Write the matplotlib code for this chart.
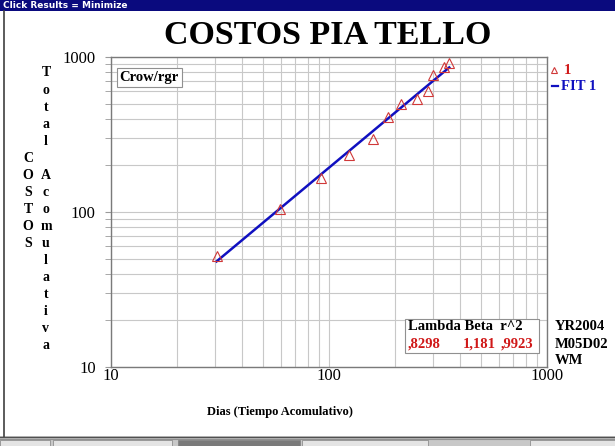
import numpy as np
import matplotlib
matplotlib.use("Agg")
import matplotlib.pyplot as plt
from matplotlib.patches import Rectangle
from matplotlib.lines import Line2D

# Data (days, cumulative cost)
dias = [30.5, 59.6, 91.8, 124, 158.5, 187, 214, 254, 286, 299, 338, 356]
costos = [52, 104, 166, 232, 294, 412, 495, 533, 603, 769, 866, 910]

# Fit line (Crow-AMSAA) end points
fit_dias = [30.5, 356]
fit_costos = [48, 856]

lam_txt = ",8298"
beta_txt = "1,181"
r2_txt = ",9923"

W, H = 615, 446
serif = "Liberation Serif"

fig = plt.figure(figsize=(W / 100, H / 100), dpi=100)
fig.patch.set_facecolor("white")


def px(x, y):
    return x / W, 1 - y / H


# window chrome
fig.add_artist(Rectangle(px(0, 10.5), 1, 10.5 / H, transform=fig.transFigure,
                         facecolor="#0a0a7e", edgecolor="none", zorder=0))
fig.text(*px(3, 5), "Click Results = Minimize", color="white", fontsize=6.5,
         fontweight="bold", family="DejaVu Sans", va="center", ha="left")
fig.add_artist(Line2D([3.5 / W, 3.5 / W], [1 - 437 / H, 1 - 11 / H],
                      transform=fig.transFigure, color="#404040", lw=1.2))
fig.add_artist(Rectangle(px(0, 446), 1, 10 / H, transform=fig.transFigure,
                         facecolor="#c8c8c8", edgecolor="none", zorder=0))
fig.add_artist(Line2D([0, 1], [1 - 436.5 / H] * 2, transform=fig.transFigure,
                      color="#505050", lw=1.0))
fig.add_artist(Line2D([0, 1], [1 - 438.5 / H] * 2, transform=fig.transFigure,
                      color="#909090", lw=0.8))
for x0, x1, fc in [(0, 50, "#e4e4e4"), (53, 172, "#e4e4e4"),
                   (178, 300, "#7a7a7a"), (302, 428, "#e4e4e4"), (530, 615, "#e4e4e4")]:
    fig.add_artist(Rectangle(px(x0, 446), (x1 - x0) / W, 6 / H, transform=fig.transFigure,
                             facecolor=fc, edgecolor="#808080", lw=0.5))

# plot area
ax = fig.add_axes([111 / W, 1 - 367 / H, (547 - 111) / W, (367 - 57) / H])
ax.set_xscale("log")
ax.set_yscale("log")
ax.set_xlim(10, 1000)
ax.set_ylim(10, 1000)

ax.grid(True, which="both", color="#c8c8c8", lw=0.8)
ax.set_axisbelow(True)
for s in ax.spines.values():
    s.set_color("#7a7a7a")
    s.set_linewidth(1.0)

ax.plot(fit_dias, fit_costos, color="#1010c0", lw=1.8, zorder=3)
ax.plot(dias, costos, linestyle="none", marker="^", markersize=7,
        markerfacecolor="none", markeredgecolor="#d03838", markeredgewidth=0.8, zorder=4)

ax.set_xticks([10, 100, 1000])
ax.set_xticklabels(["10", "100", "1000"])
ax.set_yticks([10, 100, 1000])
ax.set_yticklabels(["10", "100", "1000"])
ax.tick_params(axis="x", which="both", length=0, pad=1, labelsize=12)
ax.tick_params(axis="y", which="both", direction="out", length=4, color="#9a9a9a",
               pad=7, labelsize=12)
ax.tick_params(axis="y", which="minor", labelleft=False)
ax.tick_params(axis="x", which="minor", labelbottom=False)
for lab in ax.get_xticklabels() + ax.get_yticklabels():
    lab.set_family(serif)

# Crow/rgr box
ax.text(0.0200, 0.955, "Crow/rgr", transform=ax.transAxes, family=serif,
        fontsize=10.5, fontweight="bold", va="top", ha="left",
        bbox=dict(boxstyle="square,pad=0.2", facecolor="white", edgecolor="#909090", lw=0.8))

# title and labels
fig.text(*px(328, 35), "COSTOS PIA TELLO", family=serif, fontsize=24.5,
         fontweight="bold", ha="center", va="center")
fig.text(*px(280, 412), "Dias (Tiempo Acomulativo)", family=serif, fontsize=9,
         fontweight="bold", ha="center", va="center")

col2 = "Total Acomulativa"
for i, ch in enumerate(col2):
    if ch != " ":
        fig.text(*px(46, 73 + i * 17.06), ch, family=serif, fontsize=10,
                 fontweight="bold", ha="center", va="center")
for i, ch in enumerate("COSTOS"):
    fig.text(*px(28, 73 + (i + 5) * 17.06), ch, family=serif, fontsize=10,
             fontweight="bold", ha="center", va="center")

# stats box
fig.add_artist(Rectangle(px(405, 353), (539 - 405) / W, (353 - 319) / H,
                         transform=fig.transFigure, facecolor="white",
                         edgecolor="#909090", lw=0.8, zorder=5))
fig.text(*px(408, 327), "Lambda Beta  r^2", family=serif, fontsize=10.5,
         fontweight="bold", ha="left", va="center", zorder=6)
fig.text(*px(408, 344), lam_txt, family=serif, fontsize=10.5, color="#d01818",
         fontweight="bold", ha="left", va="center", zorder=6)
fig.text(*px(463, 344), beta_txt, family=serif, fontsize=10.5, color="#d01818",
         fontweight="bold", ha="left", va="center", zorder=6)
fig.text(*px(501, 344), r2_txt, family=serif, fontsize=10.5, color="#d01818",
         fontweight="bold", ha="left", va="center", zorder=6)

for i, t in enumerate(["YR2004", "M05D02", "WM"]):
    fig.text(*px(555, 327 + i * 17), t, family=serif, fontsize=10.5,
             fontweight="bold", ha="left", va="center")

# legend
fig.add_artist(Line2D([554 / W], [1 - 70 / H], transform=fig.transFigure, marker="^",
                      markersize=5, markerfacecolor="none", markeredgecolor="#d03838",
                      markeredgewidth=0.8, linestyle="none"))
fig.text(*px(564, 70), "1", family=serif, fontsize=10.5, fontweight="bold",
         color="#d01818", ha="left", va="center")
fig.add_artist(Line2D([552 / W, 558 / W], [1 - 86 / H] * 2, transform=fig.transFigure,
                      color="#1010c0", lw=1.6))
fig.text(*px(561, 86), "FIT 1", family=serif, fontsize=10.5, fontweight="bold",
         color="#1010c0", ha="left", va="center")

fig.savefig("out.png", dpi=100)
